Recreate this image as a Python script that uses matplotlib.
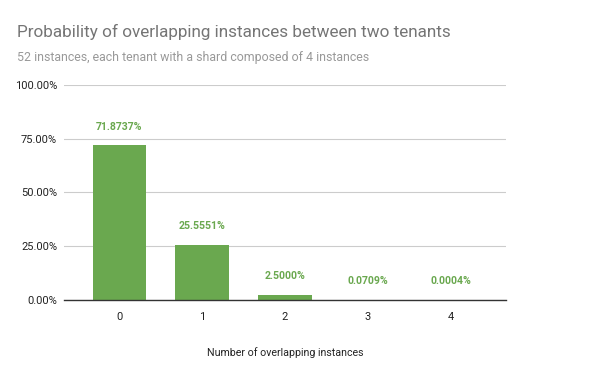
import matplotlib
matplotlib.use("Agg")
import matplotlib.pyplot as plt
from matplotlib.ticker import FuncFormatter

categories = ["0", "1", "2", "3", "4"]
probabilities = [71.8737, 25.5551, 2.5000, 0.0709, 0.0004]
y_ticks = [0, 25, 50, 75, 100]

title = "Probability of overlapping instances between two tenants"
subtitle = "52 instances, each tenant with a shard composed of 4 instances"
x_label = "Number of overlapping instances"

plt.rcParams["font.family"] = ["Roboto", "DejaVu Sans"]

bar_color = "#6aa84f"

fig = plt.figure(figsize=(6, 3.71), dpi=100)
ax = fig.add_axes([0.1067, 0.1914, 0.7367, 0.5795])

x = list(range(len(categories)))
ax.bar(x, probabilities, width=0.65, color=bar_color, zorder=3)

for xi, val in zip(x, probabilities):
    ax.annotate(f"{val:.4f}%", (xi, val), xytext=(0, 13.5), textcoords="offset points",
                ha="center", va="center", fontsize=7.6, fontweight="bold", color=bar_color)

ax.set_xlim(-0.67, 4.67)
ax.set_ylim(0, 100)
ax.set_yticks(y_ticks)
ax.yaxis.set_major_formatter(FuncFormatter(lambda v, p: f"{v:.2f}%"))
ax.set_xticks(x)
ax.set_xticklabels(categories)
ax.tick_params(axis="both", length=0, labelsize=8, colors="#222222")
ax.tick_params(axis="x", pad=9)
ax.tick_params(axis="y", pad=5)

ax.grid(axis="y", color="#cccccc", linewidth=0.8, zorder=0)
for s in ["top", "right", "left"]:
    ax.spines[s].set_visible(False)
ax.spines["bottom"].set_color("#333333")
ax.spines["bottom"].set_linewidth(1.0)
ax.spines["bottom"].set_zorder(4)

ax.set_xlabel(x_label, fontsize=7.7, color="#222222", labelpad=18)

fig.text(17 / 600, 1 - 32 / 371, title, fontsize=12.3, color="#757575", va="center", ha="left")
fig.text(17 / 600, 1 - 58 / 371, subtitle, fontsize=8.9, color="#999999", va="center", ha="left")

fig.savefig("out.png", dpi=100)
